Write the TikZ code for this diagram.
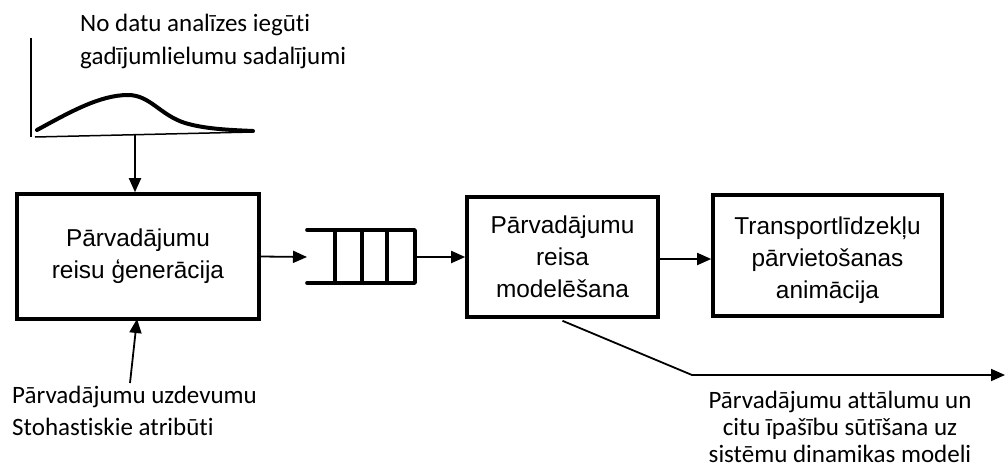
\documentclass[tikz,border=0pt]{standalone}
\usepackage{fontspec}
\setmainfont{Liberation Sans}
\newfontfamily\lblfont[Ligatures=NoCommon, Contextuals=NoAlternate]{Carlito}
\usetikzlibrary{arrows.meta}
\tikzset{
  x=1pt, y=-1pt,
  block/.style={draw, line width=3.6pt, align=center, inner sep=0pt,
    font=\fontsize{24.4}{32}\selectfont},
  conn/.style={line width=1.8pt, -{Triangle[length=14pt,width=12pt]}},
  lbl/.style={inner sep=0pt, font=\lblfont\fontsize{25}{32}\selectfont},
}
\begin{document}
\begin{tikzpicture}
\useasboundingbox (0,0) rectangle (1005,472);

% process blocks
\node[block, minimum width=242pt, minimum height=125pt] (gen) at (138,256.5)
  {Pārvadājumu\\reisu ģenerācija};
\node[block, minimum width=191pt, minimum height=120pt] (model) at (562.5,257)
  {Pārvadājumu\\reisa\\modelēšana};
\node[block, minimum width=229pt, minimum height=121pt] (anim) at (827.5,255.5)
  {\rule{0pt}{28pt}Transportlīdzekļu\\pārvietošanas\\animācija};

% distribution sketch
\draw[line width=1.5pt] (31,38) -- (31,137);
\draw[line width=1.5pt] (35,137) -- (253,132);
\draw[line width=4pt, line cap=round]
  (37,130) .. controls (70,112) and (100,95) .. (128,95)
  .. controls (150,95) and (160,115) .. (185,123)
  .. controls (205,129) and (230,130) .. (253,131);
\coordinate (dist) at (135,135);
\node[lbl, anchor=north west, align=left, font=\lblfont\fontsize{25}{33}\selectfont]
  (distlbl) at (80,14) {No datu analīzes iegūti\\gadījumlielumu sadalījumi};

% queue buffer
\coordinate (qin) at (307,257);
\coordinate (qout) at (415,257);
\draw[line width=3.6pt, line cap=round, line join=round]
  (307,230) -- (415,230) -- (415,283) -- (307,283);
\foreach \qx in {335,362,387}
  \draw[line width=3.6pt] (\qx,230) -- (\qx,283);

% connectors
\draw[conn] (dist) -- (dist |- gen.north);
\draw[conn] (gen.east) -- (qin);
\draw[conn] (qout) -- (qout -| model.west);
\draw[conn] (model.east |- 0,259) -- (anim.west |- 0,259);

% stochastic attributes input
\node[lbl, anchor=north west, align=left] (attr) at (12,386)
  {Pārvadājumu uzdevumu\\Stohastiskie atribūti};
\coordinate (attrtop) at (130,383);
\draw[conn] (attrtop) -- (137,319);

% output to system dynamics model
\coordinate (bend) at (692,375);
\coordinate (outend) at (1005,375);
\draw[conn] (model.south) ++(0,2) -- (bend) -- (outend);
\node[lbl, anchor=north, align=center, font=\lblfont\fontsize{25}{27}\selectfont]
  (outlbl) at (840,391)
  {Pārvadājumu attālumu un\\citu īpašību sūtīšana uz\\sistēmu dinamikas modeli};
\end{tikzpicture}
\end{document}
